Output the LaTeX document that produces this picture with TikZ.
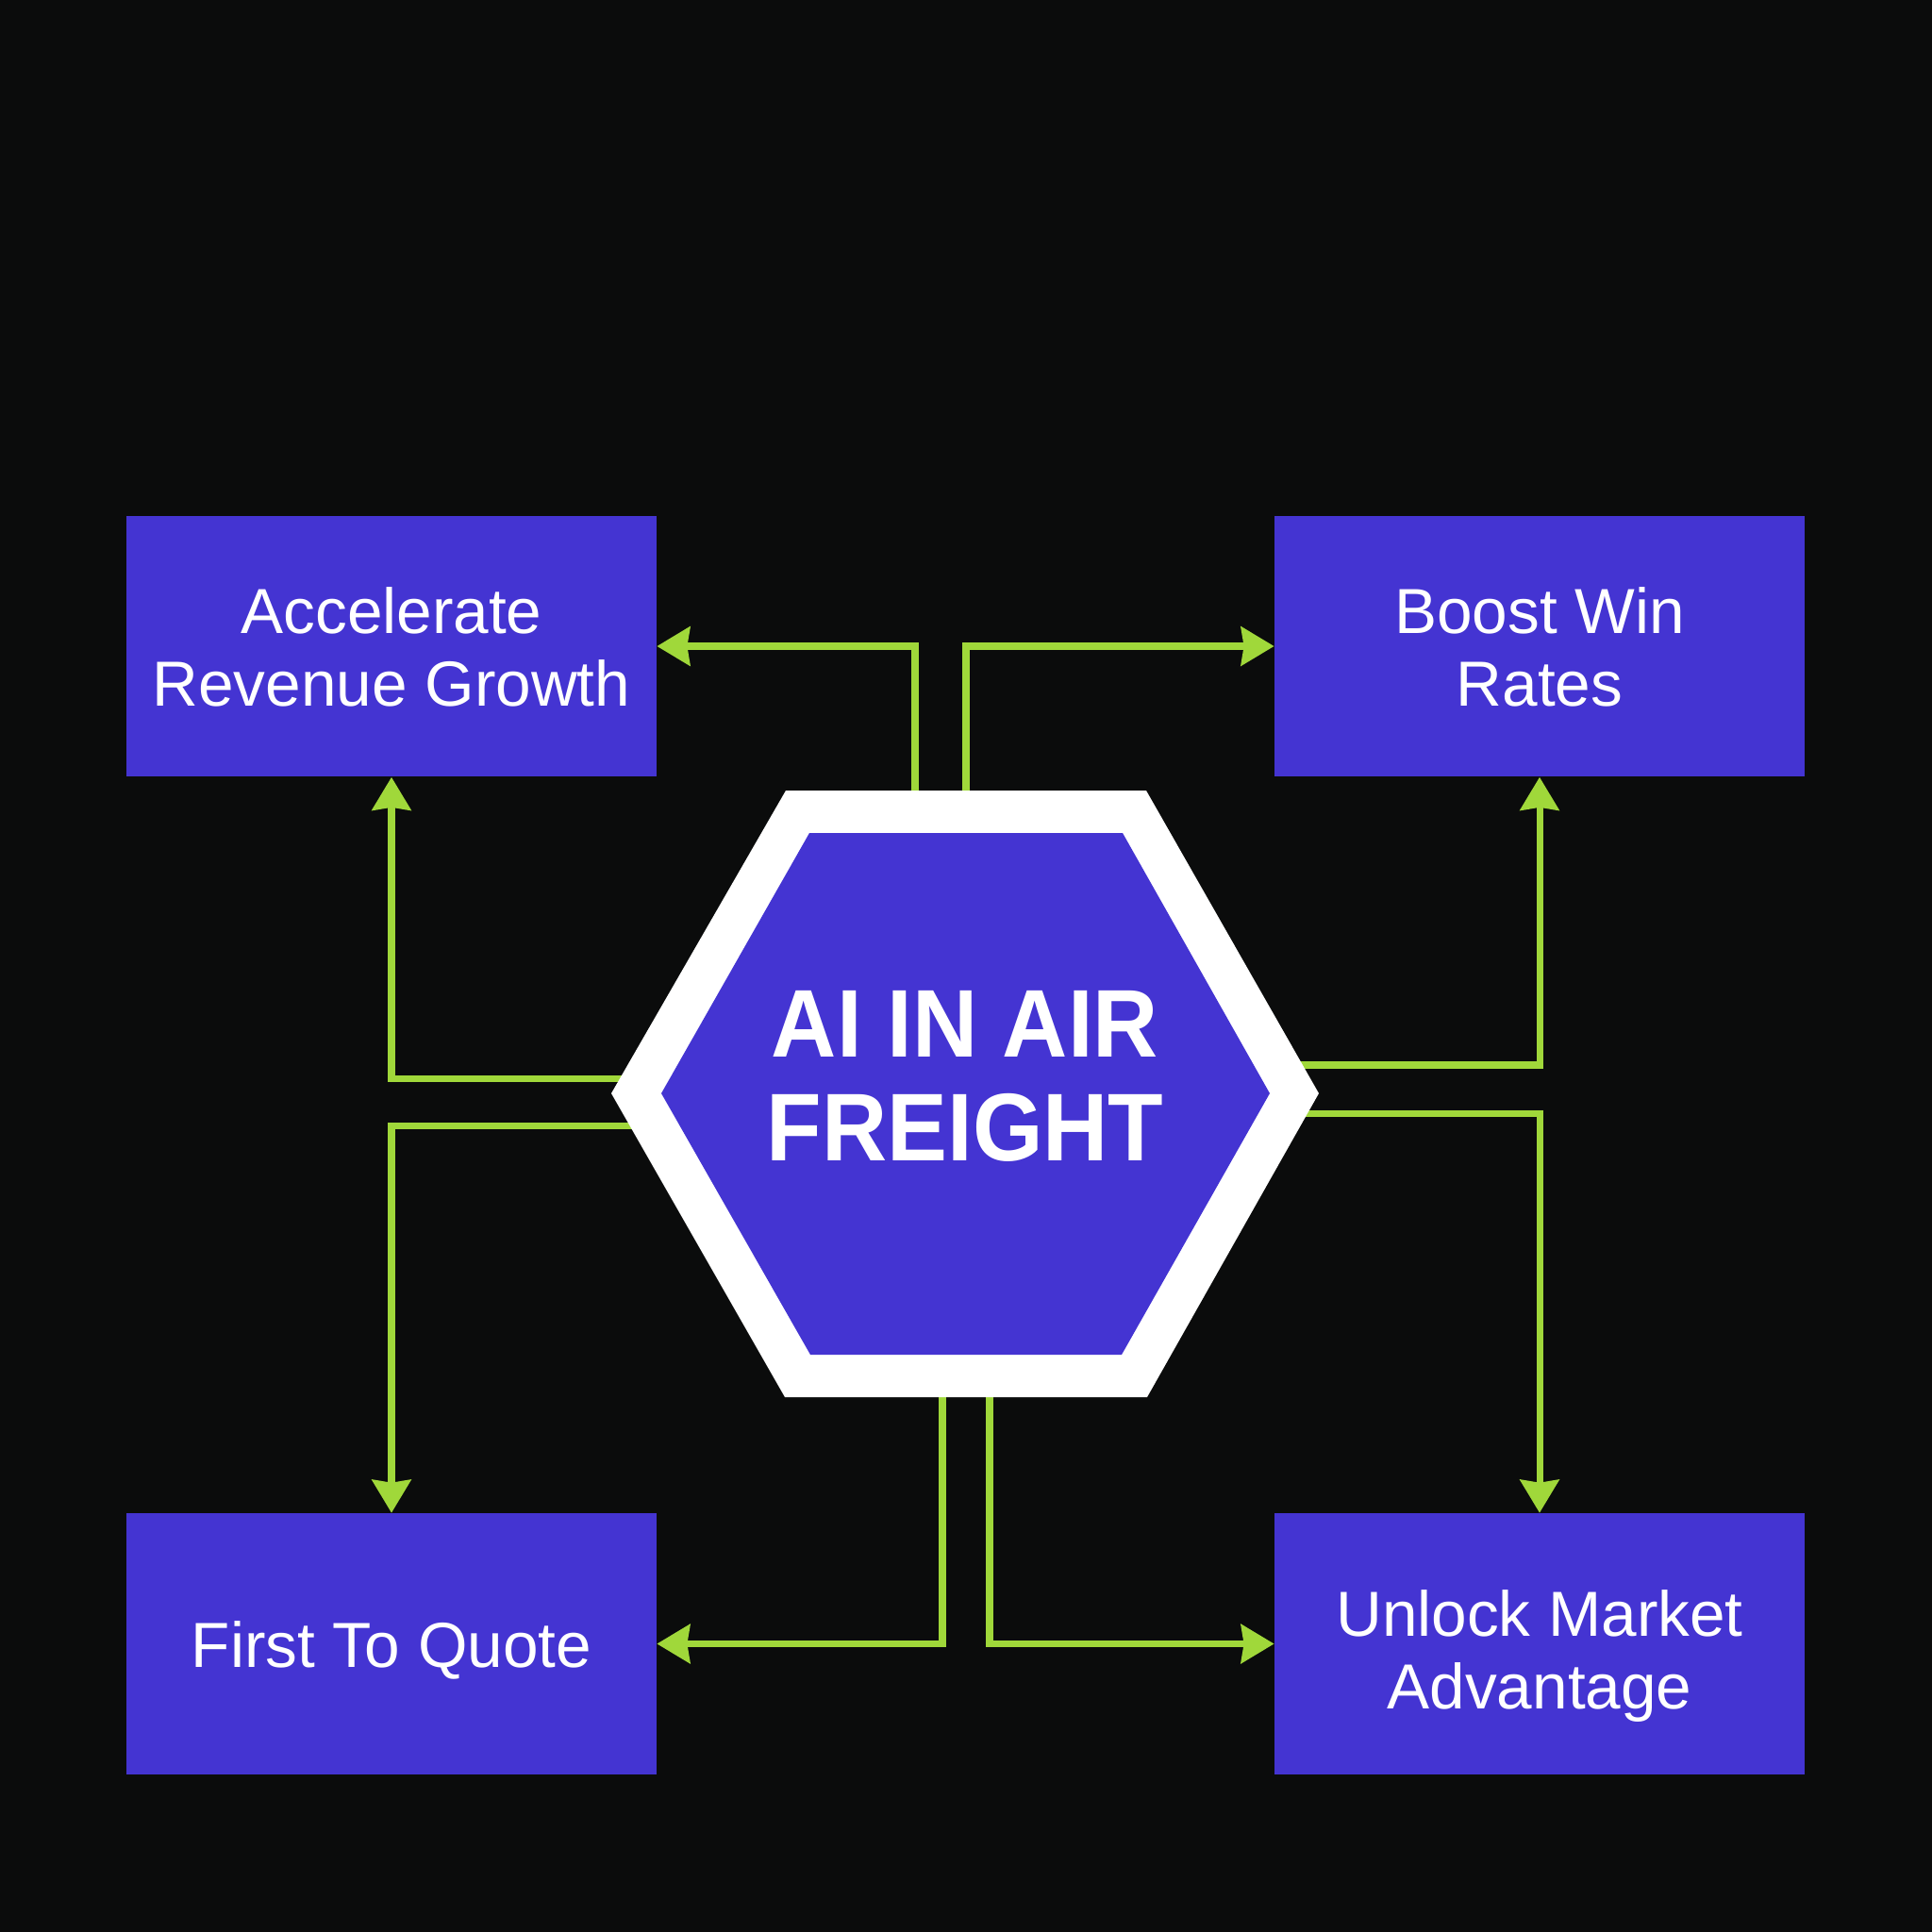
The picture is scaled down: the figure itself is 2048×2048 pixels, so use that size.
\documentclass[tikz,border=0pt]{standalone}
\usepackage{fontspec}
\usepackage{graphicx}
\setmainfont{Liberation Sans}
\usetikzlibrary{arrows.meta}
\definecolor{bgc}{HTML}{0B0C0C}
\definecolor{boxc}{HTML}{4434D2}
\definecolor{linec}{HTML}{A0D83A}
\begin{document}
\begin{tikzpicture}[x=0.01cm,y=-0.01cm,
  goalbox/.style={fill=boxc, minimum width=5.61cm, minimum height=2.76cm, inner sep=0pt},
  goaltext/.style={text=white, align=center, inner sep=0pt,
    font=\fontsize{19.2}{21.9}\selectfont},
  conn/.style={draw=linec, line width=2pt, -{Stealth[length=3.5mm,width=4.1mm,inset=0.3mm]}},
  titletext/.style={text=white, align=center, inner sep=0pt,
    font=\fontsize{29}{31.3}\selectfont\bfseries}]
\useasboundingbox (0,0) rectangle (2048,2048);
\fill[bgc] (0,0) rectangle (2048,2048);

% goal boxes
\node[goalbox] (acc)   at (415,685)    {};
\node[goalbox] (boost) at (1632,685)   {};
\node[goalbox] (ftq)   at (415,1742.5) {};
\node[goalbox] (uma)   at (1632,1742.5){};

\node[goaltext] (accT)   at ([yshift=-0.013cm]acc.center)   {Accelerate\\Revenue Growth};
\node[goaltext] (boostT) at ([yshift=-0.013cm]boost.center) {Boost Win\\Rates};
\node[goaltext] (ftqT)   at ([yshift=-0.07cm]ftq.center)    {First To Quote};
\node[goaltext] (umaT)   at ([yshift=-0.13cm]uma.center)    {Unlock Market\\Advantage};

% connector start points inside the hexagon border
\coordinate (h1) at (970,900);
\coordinate (h2) at (1024,900);
\coordinate (h3) at (700,1143);
\coordinate (h4) at (700,1193);
\coordinate (h5) at (1350,1129);
\coordinate (h6) at (1350,1180);
\coordinate (h7) at (999,1420);
\coordinate (h8) at (1049,1420);

\draw[conn] (h1) |- (acc.east);
\draw[conn] (h2) |- (boost.west);
\draw[conn] (h3) -| (acc.south);
\draw[conn] (h4) -| (ftq.north);
\draw[conn] (h5) -| (boost.south);
\draw[conn] (h6) -| (uma.north);
\draw[conn] (h7) |- (ftq.east);
\draw[conn] (h8) |- (uma.west);

% central hexagon
\fill[white] (648,1159) -- (833,838) -- (1215,838) -- (1398,1159) -- (1216,1481) -- (832,1481) -- cycle;
\fill[boxc] (701,1159) -- (858,883) -- (1190,883) -- (1346,1159) -- (1189,1436) -- (859,1436) -- cycle;
\node[titletext] (title) at (1023,1141) {\scalebox{0.94}[1]{AI IN AIR}\\\scalebox{0.94}[1]{FREIGHT}};
\end{tikzpicture}
\end{document}
